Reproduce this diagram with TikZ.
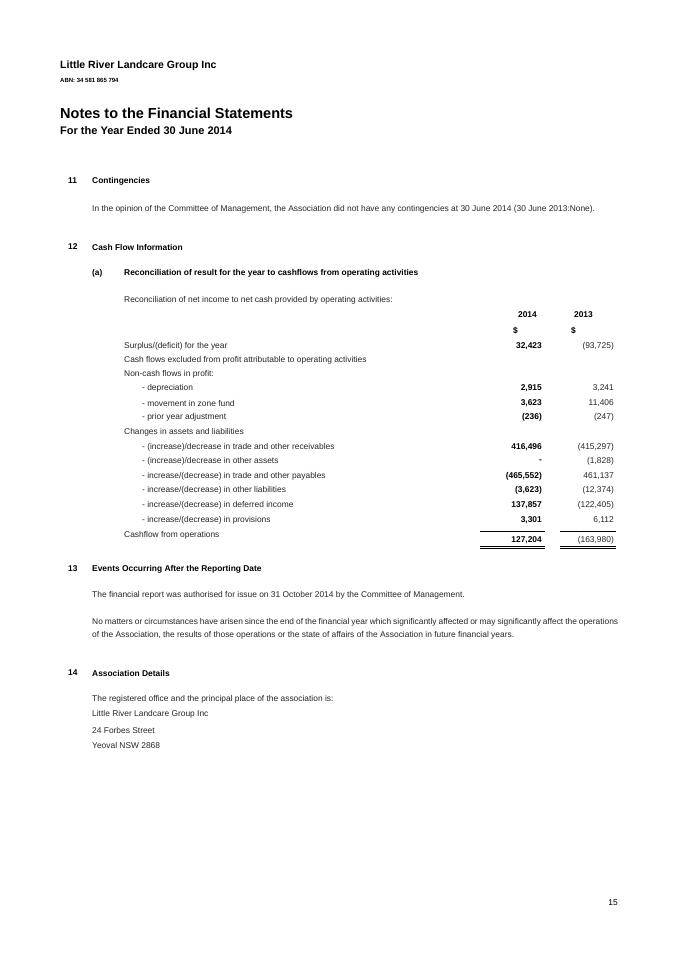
\documentclass[tikz,border=0pt]{standalone}
\usepackage{fontspec}
\setmainfont{Liberation Sans}
\begin{document}
\begin{tikzpicture}[x=1pt,y=-1pt,
  t/.style={anchor=west,inner sep=0pt,font=\fontsize{8.4}{13}\selectfont,text=black!85},
  p/.style={anchor=north west,inner sep=0pt,font=\fontsize{8.4}{13}\selectfont,text=black!85,text width=526pt,align=justify},
  h/.style={anchor=west,inner sep=0pt,font=\fontsize{8.4}{9}\selectfont\bfseries},
  vr/.style={anchor=east,inner sep=0pt,font=\fontsize{8.4}{9}\selectfont,text=black!85},
  vb/.style={anchor=east,inner sep=0pt,font=\fontsize{8.4}{9}\selectfont\bfseries},
  rl/.style={line width=0.6pt}]
\useasboundingbox (0,0) rectangle (683,962);
\fill[white] (0,0) rectangle (683,962);
\node[anchor=west,inner sep=0pt,font=\fontsize{10.5}{12}\selectfont\bfseries] (org) at (60,66) {Little River Landcare Group Inc};
\node[anchor=west,inner sep=0pt,font=\fontsize{6}{7}\selectfont\bfseries] (abn) at (60,80) {ABN: 34 581 865 794};
\node[anchor=west,inner sep=0pt,font=\fontsize{14.5}{16}\selectfont\bfseries] (ttl) at (60,113) {Notes to the Financial Statements};
\node[anchor=west,inner sep=0pt,font=\fontsize{11}{12}\selectfont\bfseries] (sub) at (60,131) {For the Year Ended 30 June 2014};

\node[h] (n11) at (68,181) {11};
\node[h] (h11) at (92,181) {Contingencies};
\node[p] (p11) at (92,205) {In the opinion of the Committee of Management, the Association did not have any contingencies at 30 June 2014 (30 June 2013:None).};

\node[h] (n12) at (68,247) {12};
\node[h] (h12) at (92,247) {Cash Flow Information};
\node[h] (na) at (92,273) {(a)};
\node[h] (ha) at (124,273) {Reconciliation of result for the year to cashflows from operating activities};
\node[t] (rec) at (124,300) {Reconciliation of net income to net cash provided by operating activities:};
\node[vb] (y1) at (537,315) {2014};
\node[vb] (y2) at (593,315) {2013};
\node[vb] (d1) at (518,331) {\$};
\node[vb] (d2) at (576,331) {\$};

\node[t] (r1) at (124,346) {Surplus/(deficit) for the year};
\node[vb] (a1) at (542,346) {32,423}; \node[vr] (b1) at (614,346) {(93,725)};
\node[t] (r2) at (124,360) {Cash flows excluded from profit attributable to operating activities};
\node[t] (r3) at (124,374) {Non-cash flows in profit:};
\node[t] (r4) at (142,388) {- depreciation};
\node[vb] (a4) at (542,388) {2,915}; \node[vr] (b4) at (614,388) {3,241};
\node[t] (r5) at (142,403) {- movement in zone fund};
\node[vb] (a5) at (542,403) {3,623}; \node[vr] (b5) at (614,403) {11,406};
\node[t] (r6) at (142,417) {- prior year adjustment};
\node[vb] (a6) at (542,417) {(236)}; \node[vr] (b6) at (614,417) {(247)};
\node[t] (r7) at (124,432) {Changes in assets and liabilities};
\node[t] (r8) at (142,447) {- (increase)/decrease in trade and other receivables};
\node[vb] (a8) at (542,447) {416,496}; \node[vr] (b8) at (614,447) {(415,297)};
\node[t] (r9) at (142,461) {- (increase)/decrease in other assets};
\node[vb] (a9) at (542,461) {-}; \node[vr] (b9) at (614,461) {(1,828)};
\node[t] (r10) at (142,476) {- increase/(decrease) in trade and other payables};
\node[vb] (a10) at (542,476) {(465,552)}; \node[vr] (b10) at (614,476) {461,137};
\node[t] (r11) at (142,490) {- increase/(decrease) in other liabilities};
\node[vb] (a11) at (542,490) {(3,623)}; \node[vr] (b11) at (614,490) {(12,374)};
\node[t] (r12) at (142,505) {- increase/(decrease) in deferred income};
\node[vb] (a12) at (542,505) {137,857}; \node[vr] (b12) at (614,505) {(122,405)};
\node[t] (r13) at (142,520) {- increase/(decrease) in provisions};
\node[vb] (a13) at (542,520) {3,301}; \node[vr] (b13) at (614,520) {6,112};
\node[t] (r14) at (124,535) {Cashflow from operations};
\node[vb] (a14) at (542,540) {127,204}; \node[vr] (b14) at (614,540) {(163,980)};
\draw[rl] (480,531) -- (545,531) (560,531) -- (616,531);
\draw[rl] (480,546) -- (545,546) (480,548.5) -- (545,548.5) (560,546) -- (616,546) (560,548.5) -- (616,548.5);

\node[h] (n13) at (68,569) {13};
\node[h] (h13) at (92,569) {Events Occurring After the Reporting Date};
\node[t] (p13a) at (92,595) {The financial report was authorised for issue on 31 October 2014 by the Committee of Management.};
\node[p] (p13b) at (92,618) {No matters or circumstances have arisen since the end of the financial year which significantly affected or may significantly affect the operations of the Association, the results of those operations or the state of affairs of the Association in future financial years.};

\node[h] (n14) at (68,673) {14};
\node[h] (h14) at (92,673) {Association Details};
\node[t] (l1) at (92,699) {The registered office and the principal place of the association is:};
\node[t] (l2) at (92,714) {Little River Landcare Group Inc};
\node[t] (l3) at (92,730) {24 Forbes Street};
\node[t] (l4) at (92,745) {Yeoval NSW 2868};
\node[anchor=east,inner sep=0pt,font=\fontsize{8.4}{9}\selectfont] (pg) at (618,903) {15};
\end{tikzpicture}
\end{document}
